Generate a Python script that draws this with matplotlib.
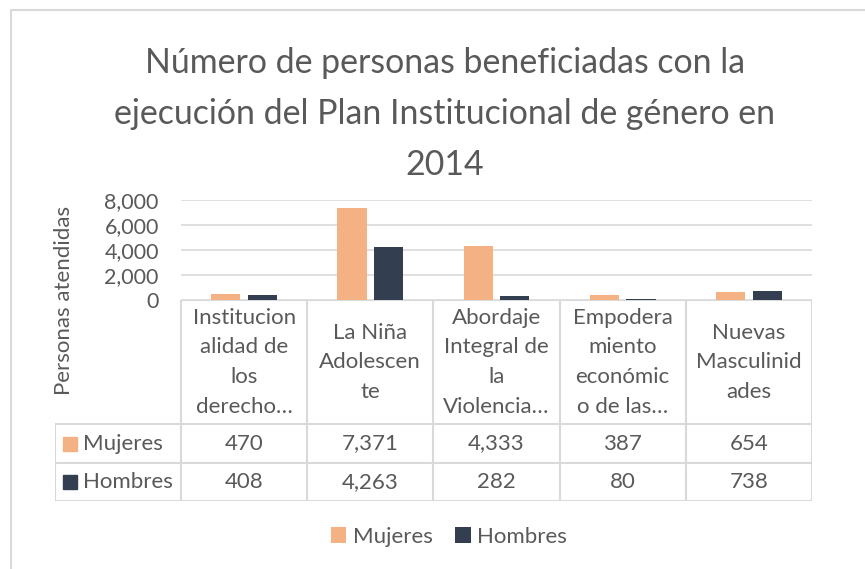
import matplotlib
matplotlib.use("Agg")
import matplotlib.pyplot as plt
from matplotlib.lines import Line2D

plt.rcParams['font.family'] = ['Lato', 'DejaVu Sans']

# data
categorias = ["Institucion\nalidad de\nlos\nderecho…",
              "La Niña\nAdolescen\nte",
              "Abordaje\nIntegral de\nla\nViolencia…",
              "Empodera\nmiento\neconómic\no de las…",
              "Nuevas\nMasculinid\nades"]
series = ["Mujeres", "Hombres"]
mujeres = [470, 7371, 4333, 387, 654]
hombres = [408, 4263, 282, 80, 738]
yticks = [0, 2000, 4000, 6000, 8000]

colores = ['#F4B183', '#333F50']
gris = '#595959'
linea = '#D9D9D9'
fs = 16

W, H = 865, 569
fig = plt.figure(figsize=(W / 100, H / 100), dpi=100)


def fx(px):
    return px / W


def fy(py):
    return 1 - py / H


# chart border (cut by the image edge on right and bottom)
fig.add_artist(Line2D([fx(11), fx(11), 1], [0, fy(10), fy(10)], color=linea, lw=1.5))

fig.text(fx(445), fy(114), "Número de personas beneficiadas con la\n"
         "ejecución del Plan Institucional de género en\n2014",
         ha='center', va='center', fontsize=24.4, color=gris, linespacing=1.73)

# bar area
x0, x1, ytop, ybot = 181, 812, 200, 300
ax = fig.add_axes([fx(x0), fy(ybot), fx(x1 - x0), (ybot - ytop) / H])
n = len(categorias)
idx = list(range(n))
bw = 0.23
off = 0.145
barras_m = ax.bar([i - off for i in idx], mujeres, bw, color=colores[0], label=series[0])
barras_h = ax.bar([i + off for i in idx], hombres, bw, color=colores[1], label=series[1])
ax.set_xlim(-0.5, n - 0.5)
ax.set_ylim(0, 8000)
ax.set_yticks(yticks)
ax.set_yticklabels([f"{v:,}" for v in yticks], fontsize=15.5, color=gris)
ax.set_xticks([])
ax.tick_params(axis='y', length=0, pad=16)
ax.grid(axis='y', color=linea, lw=1.2)
ax.set_axisbelow(True)
for s in ax.spines.values():
    s.set_visible(False)

fig.text(fx(64), fy(300), "Personas atendidas", rotation=90, ha='center', va='center',
         fontsize=16, color=gris)

# data table below the axis
tbot = 501
col = (x1 - x0) / n
tab = fig.add_axes([fx(x0 - col), fy(tbot), fx(x1 - x0 + col), (tbot - ybot) / H])
tab.set_xlim(-1.5, n - 0.5)
total_h = tbot - ybot
fila = 38.3
tab.set_ylim(0, total_h)
tab.axis('off')

kw = dict(color=linea, lw=1.5, solid_capstyle='projecting')
tab.plot([-0.5, n - 0.5], [total_h, total_h], **kw)
tab.plot([-1.5, n - 0.5], [2 * fila, 2 * fila], **kw)
tab.plot([-1.5, n - 0.5], [fila, fila], **kw)
tab.plot([-1.5, n - 0.5], [0, 0], **kw)
tab.plot([-1.5, -1.5], [0, 2 * fila], **kw)
for i in range(n + 1):
    tab.plot([i - 0.5, i - 0.5], [0, total_h], **kw)

header_mid = (total_h + 2 * fila) / 2
for i, c in enumerate(categorias):
    tab.text(i, header_mid, c, ha='center', va='center', fontsize=fs, color=gris,
             linespacing=1.6)

for r, (nombre, vals, colr) in enumerate(zip(series, [mujeres, hombres], colores)):
    yc = (1.5 - r) * fila
    tab.text(-1.5 + 0.22, yc, nombre, ha='left', va='center', fontsize=fs, color=gris)
    tab.plot([-1.5 + 0.12], [yc], marker='s', ms=10, color=colr, ls='none')
    for i, v in enumerate(vals):
        tab.text(i, yc, f"{v:,}", ha='center', va='center', fontsize=fs, color=gris)

fig.legend(handles=[barras_m, barras_h], loc='center', bbox_to_anchor=(fx(449), fy(537)),
           ncol=2, frameon=False, fontsize=fs, labelcolor=gris, handlelength=0.7,
           handleheight=0.7, handletextpad=0.3, columnspacing=1.0)

fig.savefig("out.png", dpi=100)
